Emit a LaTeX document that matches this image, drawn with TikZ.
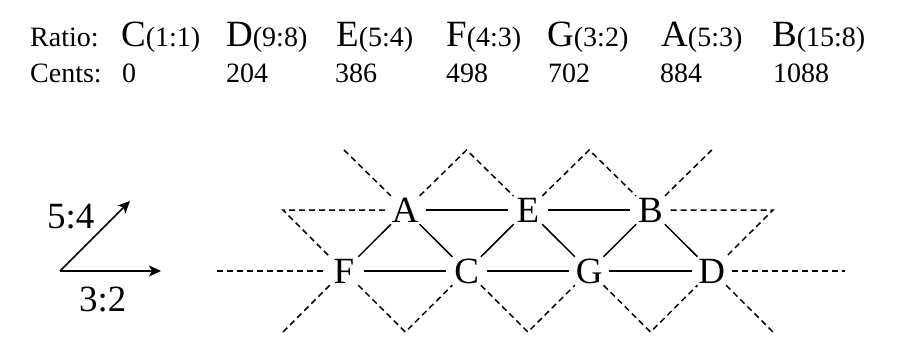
\documentclass[tikz,border=0pt]{standalone}
\usepackage{fontspec}
\setmainfont{Liberation Serif}
\usetikzlibrary{arrows.meta}
\newcommand{\notebig}[1]{{\fontsize{37}{40}\selectfont #1}}
\begin{document}
\begin{tikzpicture}[x=1pt,y=-1pt,
  note/.style={circle,minimum size=40pt,inner sep=0pt,font=\fontsize{37}{40}\selectfont},
  sline/.style={line width=1.5pt},
  dline/.style={line width=1.5pt,dash pattern=on 6pt off 4pt},
  hdr/.style={anchor=base west,inner sep=0pt,font=\fontsize{28}{30}\selectfont},
  lbl/.style={anchor=base west,inner sep=0pt,font=\fontsize{37}{40}\selectfont},
  arr/.style={line width=1.5pt,-{Stealth[length=12pt,width=11pt,inset=3pt]}}]
\useasboundingbox (0,0) rectangle (900,345);
% header
\node[hdr] (ratio) at (30,47) {Ratio:};
\node[hdr] (rC) at (121,47) {\notebig{C}(1:1)};
\node[hdr] (rD) at (226,47) {\notebig{D}(9:8)};
\node[hdr] (rE) at (336,47) {\notebig{E}(5:4)};
\node[hdr] (rF) at (446,47) {\notebig{F}(4:3)};
\node[hdr] (rG) at (547,47) {\notebig{G}(3:2)};
\node[hdr] (rA) at (661,47) {\notebig{A}(5:3)};
\node[hdr] (rB) at (772,47) {\notebig{B}(15:8)};
\node[hdr] (cents) at (30,82) {Cents:};
\node[hdr] (cC) at (122,82) {0};
\node[hdr] (cD) at (226,82) {204};
\node[hdr] (cE) at (335,82) {386};
\node[hdr] (cF) at (446,82) {498};
\node[hdr] (cG) at (548,82) {702};
\node[hdr] (cA) at (660,82) {884};
\node[hdr] (cB) at (773,82) {1088};
% axes
\coordinate (o) at (60,271);
\coordinate (h) at (161,271);
\coordinate (d) at (130,201);
\draw[arr] (o) -- (h);
\draw[arr] (o) -- (d);
\node[lbl] (l54) at (47,228) {5:4};
\node[lbl] (l32) at (79,311) {3:2};
% lattice
\node[note] (F) at (344,271) {F};
\node[note] (A) at (405.3,210) {A};
\node[note] (C) at (466.6,271) {C};
\node[note] (E) at (527.9,210) {E};
\node[note] (G) at (589.2,271) {G};
\node[note] (B) at (650.5,210) {B};
\node[note] (D) at (711.8,271) {D};
\coordinate (aUL) at (344,150);
\coordinate (p1) at (466.6,150);
\coordinate (p2) at (589.2,150);
\coordinate (bUR) at (711.8,150);
\coordinate (lc) at (283,210);
\coordinate (rc) at (773,210);
\coordinate (lh) at (217,271);
\coordinate (rh) at (845,271);
\coordinate (fDL) at (283,332);
\coordinate (v1) at (405.3,332);
\coordinate (v2) at (527.9,332);
\coordinate (v3) at (650.5,332);
\coordinate (dDR) at (773,332);
\draw[sline] (A) -- (E);
\draw[sline] (E) -- (B);
\draw[sline] (F) -- (C);
\draw[sline] (C) -- (G);
\draw[sline] (G) -- (D);
\draw[sline] (F) -- (A);
\draw[sline] (A) -- (C);
\draw[sline] (C) -- (E);
\draw[sline] (E) -- (G);
\draw[sline] (G) -- (B);
\draw[sline] (B) -- (D);
\draw[dline] (aUL) -- (A);
\draw[dline] (A) -- (p1) -- (E);
\draw[dline] (E) -- (p2) -- (B);
\draw[dline] (B) -- (bUR);
\draw[dline] (A) -- (lc) -- (F);
\draw[dline] (lh) -- (F);
\draw[dline] (F) -- (fDL);
\draw[dline] (F) -- (v1) -- (C);
\draw[dline] (C) -- (v2) -- (G);
\draw[dline] (G) -- (v3) -- (D);
\draw[dline] (D) -- (dDR);
\draw[dline] (B) -- (rc) -- (D);
\draw[dline] (D) -- (rh);
\end{tikzpicture}
\end{document}
